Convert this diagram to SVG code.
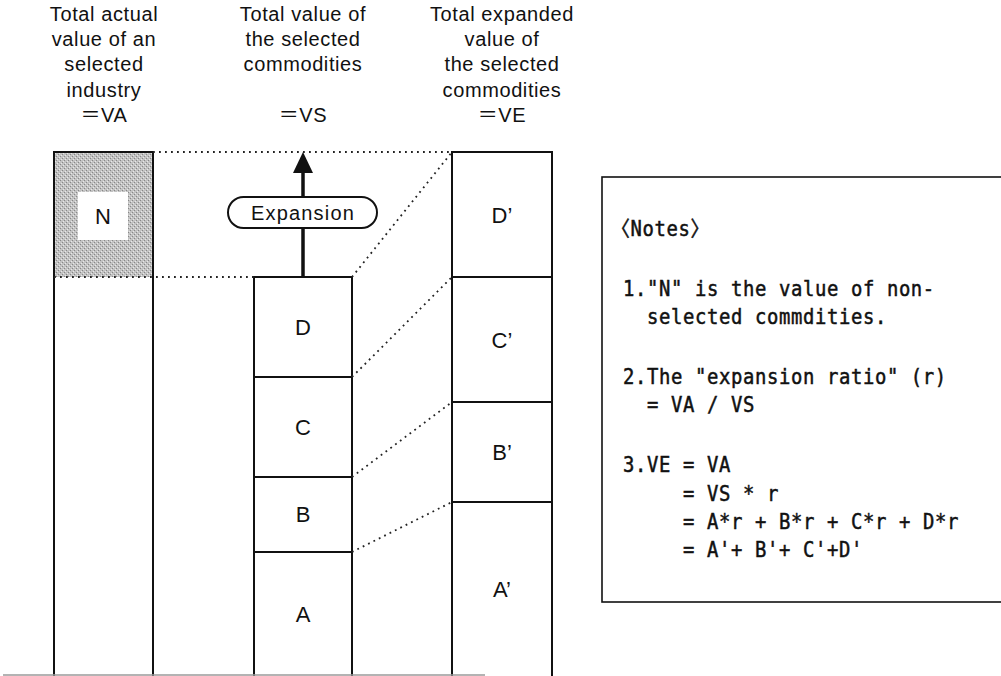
<svg xmlns="http://www.w3.org/2000/svg" width="1001" height="676" viewBox="0 0 1001 676">
  <style>
    .bg { fill: #ffffff; }
    .hdr { font-family: "Liberation Sans", Arial, "Noto Sans CJK JP", sans-serif; font-size: 20px; fill: #111; text-anchor: middle; letter-spacing: 0.6px; }
    .lbl { font-family: "Liberation Sans", Arial, "Noto Sans CJK JP", sans-serif; font-size: 22px; fill: #111; text-anchor: middle; }
    .col { fill: none; stroke: #111; stroke-width: 2; }
    .div { fill: none; stroke: #111; stroke-width: 2; }
    .dot { fill: none; stroke: #222; stroke-width: 1.8; stroke-dasharray: 1.8 4.2; }
    .pill { fill: #ffffff; stroke: #111; stroke-width: 2; }
    /* monospaced notes: glyphs narrowed slightly, pitch kept at 12px (13.33 units x 0.9) */
    .note { font-family: "DejaVu Sans Mono", "Liberation Mono", "Noto Sans CJK JP", monospace; font-size: 21px; fill: #111; stroke: #111; stroke-width: 0.5; letter-spacing: 0.69px; }
    .frame { fill: #ffffff; stroke: #111; stroke-width: 1.6; }
  </style>
  <defs>
    <!-- halftone screen used for the non-selected share -->
    <pattern id="halftone" width="4" height="4" patternUnits="userSpaceOnUse">
      <rect width="4" height="4" fill="#c2c2c2"/>
      <rect x="0" y="0" width="1" height="1" fill="#888888"/>
      <rect x="2" y="2" width="1" height="1" fill="#888888"/>
      <rect x="1" y="3" width="1" height="1" fill="#e8e8e8"/>
      <rect x="3" y="1" width="1" height="1" fill="#e8e8e8"/>
    </pattern>
  </defs>

  <rect class="bg" x="0" y="0" width="1001" height="676"/>

  <!-- column headings -->
  <g id="heading-industry">
    <text class="hdr" x="104" y="21">Total actual</text>
    <text class="hdr" x="104" y="46">value of an</text>
    <text class="hdr" x="104" y="71">selected</text>
    <text class="hdr" x="104" y="97">industry</text>
    <text class="hdr" x="104" y="122">＝VA</text>
  </g>
  <g id="heading-selected">
    <text class="hdr" x="303" y="21">Total value of</text>
    <text class="hdr" x="303" y="46">the selected</text>
    <text class="hdr" x="303" y="71">commodities</text>
    <text class="hdr" x="303" y="122">＝VS</text>
  </g>
  <g id="heading-expanded">
    <text class="hdr" x="502" y="21">Total expanded</text>
    <text class="hdr" x="502" y="46">value of</text>
    <text class="hdr" x="502" y="71">the selected</text>
    <text class="hdr" x="502" y="97">commodities</text>
    <text class="hdr" x="502" y="122">＝VE</text>
  </g>

  <!-- industry column: non-selected share on top -->
  <g id="col-industry">
    <rect x="54" y="152" width="99" height="125" fill="url(#halftone)"/>
    <path class="col" d="M54,676 V152 H153 V676"/>
  </g>
  <g id="node-N">
    <rect x="78" y="192" width="50" height="48" fill="#ffffff"/>
    <text class="lbl" x="103" y="224">N</text>
  </g>

  <!-- selected commodities column -->
  <g id="col-selected">
    <path class="col" d="M254,676 V277 H352 V676"/>
  </g>
  <g id="node-D">
    <text class="lbl" x="303" y="335">D</text>
  </g>
  <g id="node-C">
    <path class="div" d="M254,377 H352"/>
    <text class="lbl" x="303" y="435">C</text>
  </g>
  <g id="node-B">
    <path class="div" d="M254,477 H352"/>
    <text class="lbl" x="303" y="522">B</text>
  </g>
  <g id="node-A">
    <path class="div" d="M254,552 H352"/>
    <text class="lbl" x="303" y="622">A</text>
  </g>

  <!-- expanded column -->
  <g id="col-expanded">
    <path class="col" d="M452,676 V152 H552 V676"/>
  </g>
  <g id="node-D-prime">
    <text class="lbl" x="502" y="223">D’</text>
  </g>
  <g id="node-C-prime">
    <path class="div" d="M452,277 H552"/>
    <text class="lbl" x="502" y="348">C’</text>
  </g>
  <g id="node-B-prime">
    <path class="div" d="M452,402 H552"/>
    <text class="lbl" x="502" y="460">B’</text>
  </g>
  <g id="node-A-prime">
    <path class="div" d="M452,502 H552"/>
    <text class="lbl" x="502" y="597">A’</text>
  </g>

  <!-- connectors: projection guides and expansion arrow -->
  <g id="connectors">
    <path class="dot" d="M153,152 H452"/>
    <path class="dot" d="M54,277 H254"/>
    <path class="dot" d="M352,277 L452,152"/>
    <path class="dot" d="M352,377 L452,277"/>
    <path class="dot" d="M352,477 L452,402"/>
    <path class="dot" d="M352,552 L452,502"/>
    <path d="M303,277 V172" fill="none" stroke="#111" stroke-width="3.5"/>
    <path d="M303,152 L293,173 L313,173 Z" fill="#111"/>
  </g>

  <g id="node-expansion">
    <rect class="pill" x="228" y="197" width="149" height="31" rx="15.5" ry="15.5"/>
    <text class="hdr" x="303" y="220" style="letter-spacing:1.2px">Expansion</text>
  </g>

  <!-- notes panel -->
  <g id="notes">
    <rect class="frame" x="602" y="177" width="420" height="425"/>
    <g transform="translate(623,0) scale(0.9,1)">
      <text class="note" x="-13.33" y="236">〈Notes〉</text>
      <text class="note" x="0" y="296">1."N" is the value of non-</text>
      <text class="note" x="26.67" y="324">selected commdities.</text>
      <text class="note" x="0" y="384">2.The "expansion ratio" (r)</text>
      <text class="note" x="26.67" y="412">= VA / VS</text>
      <text class="note" x="0" y="472">3.VE = VA</text>
      <text class="note" x="66.67" y="501">= VS * r</text>
      <text class="note" x="66.67" y="529">= A*r + B*r + C*r + D*r</text>
      <text class="note" x="66.67" y="557">= A'+ B'+ C'+D'</text>
    </g>
  </g>

  <!-- page edge rule along the bottom -->
  <path d="M3,675 H485" fill="none" stroke="#9a9a9a" stroke-width="1.5"/>
</svg>
